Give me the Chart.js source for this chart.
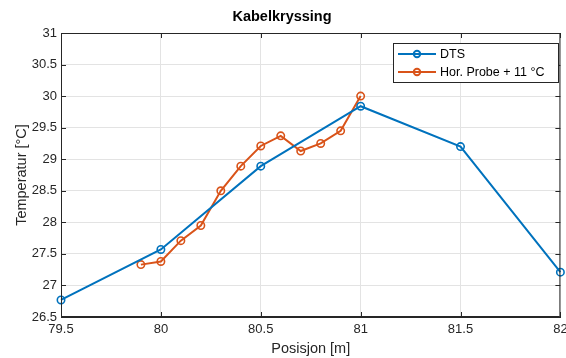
<!DOCTYPE html>
<html>
<head>
<meta charset="utf-8">
<script src="https://cdn.jsdelivr.net/npm/chart.js@4/dist/chart.umd.min.js"></script>
<style>
  html, body { margin: 0; background: #fff; }
</style>
</head>
<body>
<canvas id="myChart" width="566" height="358"></canvas>
<script>
const dtsPos = [79.5, 80, 80.5, 81, 81.5, 82]
const dtsTemp = [26.77, 27.57, 28.89, 29.84, 29.2, 27.21]
const probePos = [79.9, 80, 80.1, 80.2, 80.3, 80.4, 80.5, 80.6, 80.7, 80.8, 80.9, 81]
const probeTemp = [27.33, 27.38, 27.71, 27.95, 28.5, 28.89, 29.21, 29.37, 29.13, 29.25, 29.45, 30.0]
const seriesNames = ['DTS', 'Hor. Probe + 11 \u00B0C']
const seriesColors = ['#0072BD', '#D95319']

const ctx = document.getElementById('myChart').getContext('2d')
const FONT = "'Liberation Sans', Arial, sans-serif"
const axisColor = '#262626'

const toPoints = (xs, ys) => xs.map((x, i) => ({ x: x, y: ys[i] }))
const plainNum = v => String(Math.round(v * 10) / 10)

// box + inner tick marks + legend, matlab style
const matlabAxes = {
    id: 'matlabAxes',
    afterDraw(chart) {
        const c = chart.ctx
        const a = chart.chartArea
        const sx = chart.scales.x
        const sy = chart.scales.y
        c.save()
        c.strokeStyle = axisColor
        c.lineWidth = 1
        c.beginPath()
        c.rect(a.left + 0.5, a.top + 0.5, a.right - a.left - 1, a.bottom - a.top - 1)
        c.stroke()
        c.beginPath()
        sx.ticks.forEach(t => {
            const px = Math.round(sx.getPixelForValue(t.value)) + 0.5
            c.moveTo(px, a.bottom); c.lineTo(px, a.bottom - 5)
            c.moveTo(px, a.top); c.lineTo(px, a.top + 5)
        })
        sy.ticks.forEach(t => {
            const py = Math.round(sy.getPixelForValue(t.value)) + 0.5
            c.moveTo(a.left, py); c.lineTo(a.left + 5, py)
            c.moveTo(a.right, py); c.lineTo(a.right - 5, py)
        })
        c.stroke()

        // legend
        const lx = 393, ly = 43, lw = 165, lh = 39
        c.fillStyle = '#fff'
        c.fillRect(lx, ly, lw, lh)
        c.strokeStyle = '#262626'
        c.strokeRect(lx + 0.5, ly + 0.5, lw, lh)
        c.font = '12.5px ' + FONT
        c.textBaseline = 'middle'
        seriesNames.forEach((name, i) => {
            const y = ly + 11 + i * 18
            c.strokeStyle = seriesColors[i]
            c.lineWidth = 2
            c.beginPath()
            c.moveTo(lx + 5, y); c.lineTo(lx + 43, y)
            c.stroke()
            c.beginPath()
            c.arc(lx + 24, y, 3.2, 0, Math.PI * 2)
            c.stroke()
            c.fillStyle = '#000'
            c.fillText(name, lx + 47, y + 1)
        })
        c.restore()
    }
}

const data = {
    datasets: [{
        label: seriesNames[0],
        data: toPoints(dtsPos, dtsTemp),
        borderColor: seriesColors[0],
        backgroundColor: 'transparent',
        borderWidth: 2,
        pointRadius: 3.7,
        pointBorderWidth: 1.6,
        pointBackgroundColor: 'transparent',
        tension: 0,
        clip: 8
    }, {
        label: seriesNames[1],
        data: toPoints(probePos, probeTemp),
        borderColor: seriesColors[1],
        backgroundColor: 'transparent',
        borderWidth: 2,
        pointRadius: 3.7,
        pointBorderWidth: 1.6,
        pointBackgroundColor: 'transparent',
        tension: 0,
        clip: 8
    }]
}

const config = {
    type: 'line',
    data: data,
    options: {
        responsive: false,
        animation: false,
        layout: { padding: { left: 0, right: 2, top: 0, bottom: 0 } },
        plugins: {
            legend: { display: false },
            tooltip: { enabled: false },
            title: {
                display: true,
                text: 'Kabelkryssing',
                color: '#000',
                font: { family: FONT, size: 14.5, weight: 'bold' },
                padding: { top: 8, bottom: 7.6 }
            }
        },
        scales: {
            x: {
                type: 'linear',
                min: 79.5,
                max: 82,
                afterFit: s => { s.height = 41; s.paddingLeft = 0; s.paddingRight = 0 },
                ticks: {
                    stepSize: 0.5,
                    color: axisColor,
                    padding: 5,
                    maxRotation: 0,
                    font: { family: FONT, size: 13 },
                    callback: plainNum
                },
                grid: { color: '#e3e3e3', drawTicks: false },
                border: { color: axisColor },
                title: {
                    display: true,
                    text: 'Posisjon [m]',
                    color: axisColor,
                    font: { family: FONT, size: 14.5 },
                    padding: { top: 0, bottom: 0 }
                }
            },
            y: {
                min: 26.5,
                max: 31,
                afterFit: s => { s.width = 61; s.paddingTop = 0; s.paddingBottom = 0 },
                ticks: {
                    stepSize: 0.5,
                    color: axisColor,
                    padding: 4,
                    font: { family: FONT, size: 13 },
                    callback: plainNum
                },
                grid: { color: '#e3e3e3', drawTicks: false },
                border: { color: axisColor },
                title: {
                    display: true,
                    text: 'Temperatur [\u00B0C]',
                    color: axisColor,
                    font: { family: FONT, size: 14.5 },
                    padding: { top: 13, bottom: 0 }
                }
            }
        }
    },
    plugins: [matlabAxes]
}

window.ctx = new Chart(ctx, config)
</script>
</body>
</html>
